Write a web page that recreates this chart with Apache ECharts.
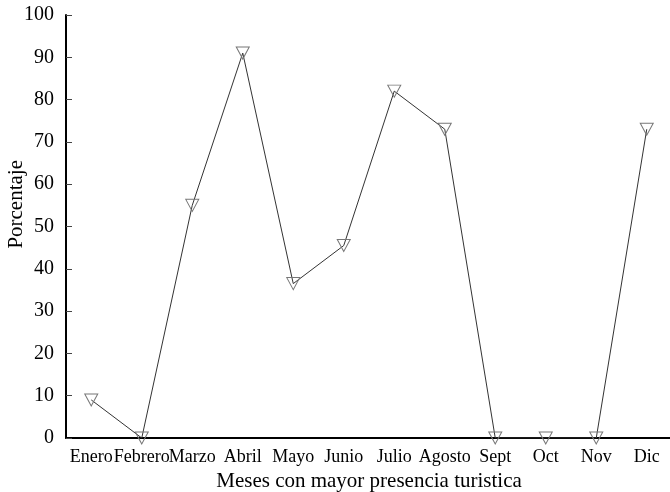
<!DOCTYPE html>
<html>
<head>
<meta charset="utf-8">
<script src="https://cdn.jsdelivr.net/npm/echarts@6/dist/echarts.min.js"></script>
<style>
html,body{margin:0;padding:0;background:#fff;}
#chart{width:670px;height:492px;}
</style>
</head>
<body>
<div id="chart"></div>
<script>
var months = ['Enero','Febrero','Marzo','Abril','Mayo','Junio','Julio','Agosto','Sept','Oct','Nov','Dic'];
var percentages = [9, 0, 55, 91, 36.5, 45.5, 82, 73, 0, 0, 0, 73];
var xTitle = 'Meses con mayor presencia turistica';
var yTitle = 'Porcentaje';

var font = 'Liberation Serif, Times New Roman, serif';
var chart = echarts.init(document.getElementById('chart'));
chart.setOption({
  backgroundColor: '#fff',
  animation: false,
  grid: {left: 66, top: 15, bottom: 54, width: 606, containLabel: false, outerBoundsMode: 'none'},
  xAxis: {
    type: 'category',
    data: months,
    boundaryGap: true,
    name: xTitle,
    nameLocation: 'middle',
    nameGap: 32,
    nameTextStyle: {color: '#000', fontFamily: font, fontSize: 21},
    axisLine: {lineStyle: {color: '#000', width: 2}},
    axisTick: {inside: true, length: 6, lineStyle: {color: '#444', width: 1}},
    axisLabel: {interval: 0, color: '#000', fontFamily: font, fontSize: 18, margin: 10}
  },
  yAxis: {
    type: 'value',
    min: 0, max: 100, interval: 10,
    axisLine: {show: true, lineStyle: {color: '#000', width: 2}},
    axisTick: {show: true, inside: true, length: 6, lineStyle: {color: '#444', width: 1}},
    splitLine: {show: false},
    axisLabel: {color: '#000', fontFamily: font, fontSize: 20, margin: 12}
  },
  graphic: [{
    type: 'text',
    left: 6, top: 160,
    rotation: Math.PI / 2,
    style: {text: yTitle, fill: '#000', font: '21px ' + font}
  }],
  series: [{
    type: 'line',
    data: percentages,
    symbol: 'triangle',
    symbolRotate: 180,
    symbolSize: [13, 12],
    itemStyle: {color: 'rgba(255,255,255,0)', borderColor: '#777', borderWidth: 1},
    lineStyle: {color: '#333', width: 1}
  }]
});
</script>
</body>
</html>
